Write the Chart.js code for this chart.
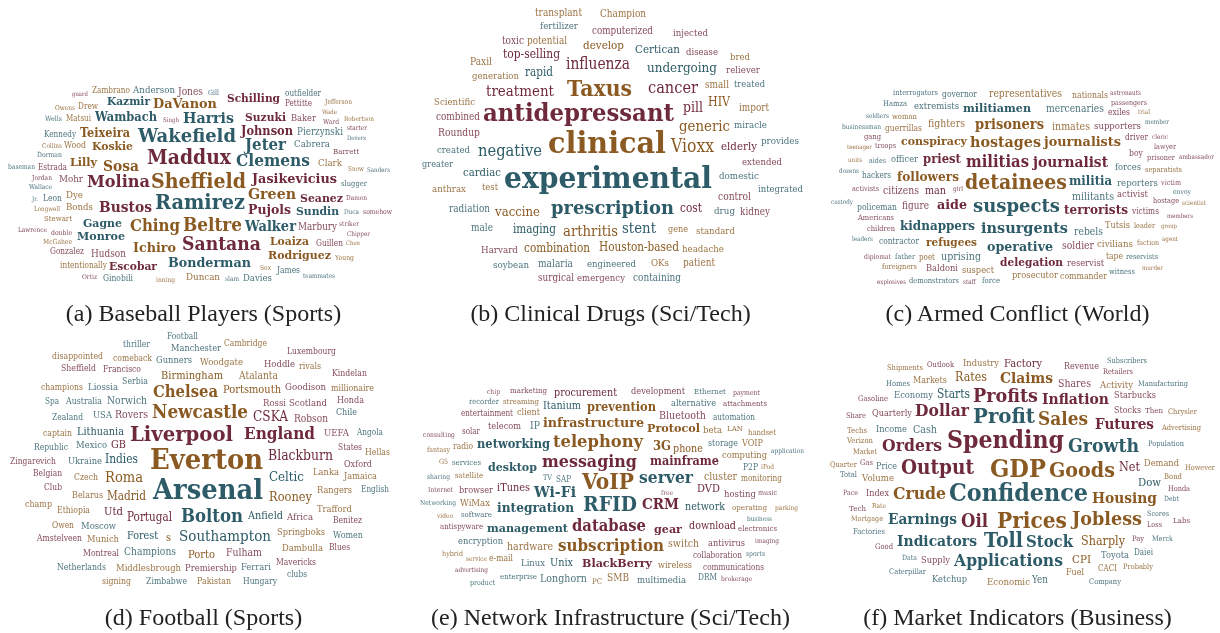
<!DOCTYPE html>
<html>
<head>
<meta charset="utf-8">
<script src="https://cdn.jsdelivr.net/npm/chart.js@4.4.0/dist/chart.umd.min.js"></script>
<style>
  body { margin: 0; background: #fff; }
  #wrap { position: relative; width: 1220px; height: 633px; overflow: hidden; }
  #wrap canvas { position: absolute; }
  .cap { position: absolute; width: 407px; text-align: center; font-family: "Liberation Serif", serif; font-size: 24px; color: #222; line-height: 28px; }
</style>
</head>
<body>
<div id="wrap"></div>
<script>
// word clouds drawn as scatter charts: each word = [text, xFrom, xTo, y, cluster, keyTerm]
// cluster: 0 teal, 1 maroon, 2 brown
const palette = ['#2d5b67', '#6e2a3a', '#8a5a22'];

const baseballWords = [
  ['guard',72,88,94,1],['Zambrano',92,130,91,2],['Anderson',133,175,90,0],['Jones',178,203,92,1],['Gill',208,219,93,0],
  ['Kazmir',107,150,102,0,1],['DaVanon',153,217,104,2,1],['Owens',55,75,108,2],['Drew',78,98,107,2],
  ['Wells',45,62,119,0],['Matsui',66,91,119,2],['Wambach',95,157,118,0,1],['Singh',163,179,120,1],['Harris',183,234,119,0,1],
  ['Kennedy',44,76,135,0],['Teixeira',80,130,134,2,1],['Wakefield',138,236,137,0,1],['Collins',42,62,146,2],['Wood',64,86,146,2],
  ['Koskie',92,133,147,2,1],['Dorman',37,62,155,0],['Maddux',147,231,159,1,1],['Lilly',70,97,163,2,1],['Sosa',103,139,167,2,1],
  ['baseman',8,35,167,0],['Estrada',38,67,168,1],['Jordan',32,52,178,1],['Mohr',59,83,179,1],['Molina',87,150,183,1,1],
  ['Sheffield',151,246,183,2,1],['Wallace',29,52,187,0],['Dye',66,83,195,2],['Jr.',32,38,199,0],['Leon',43,62,199,0],
  ['Bonds',66,93,207,2],['Bustos',99,152,208,1,1],['Ramirez',155,245,204,0,1],['Longwell',34,60,209,2],['Stewart',44,72,219,2],
  ['Lawrence',18,47,230,1],['Gagne',83,122,224,0,1],['Ching',130,180,227,2,1],['Beltre',183,242,226,2,1],['double',51,72,233,1],
  ['Monroe',77,125,237,0,1],['McGahee',43,72,242,2],['Ichiro',133,176,248,2,1],['Santana',182,261,245,1,1],['Gonzalez',50,84,252,1],
  ['Hudson',91,126,254,1],['intentionally',60,107,266,2],['Escobar',109,157,267,1,1],['Bonderman',168,251,263,0,1],['Ortiz',82,97,277,1],
  ['Ginobili',103,133,279,0],['inning',156,175,280,2],['Duncan',186,220,277,2],['Schilling',227,280,99,1,1],['outfielder',285,321,94,0],
  ['Pettitte',285,312,104,1],['Jefferson',325,352,102,2],['Wade',322,337,112,2],['Suzuki',245,286,118,1,1],['Baker',291,316,119,1],
  ['Ward',323,339,122,1],['Robertson',344,374,119,2],['Johnson',241,293,132,1,1],['Pierzynski',297,343,132,0],['starter',347,367,128,1],
  ['Devers',347,366,138,0],['Jeter',245,286,146,0,1],['Cabrera',294,330,144,0],['Barrett',333,359,152,1],['Clemens',236,310,162,0,1],
  ['Clark',318,342,163,2],['Snow',348,364,169,2],['Sanders',367,390,170,0],['Jasikevicius',252,337,179,1,1],['slugger',341,367,184,0],
  ['Green',248,296,195,2,1],['Seanez',300,343,199,1,1],['Damon',346,367,198,1],['Pujols',248,291,211,1,1],['Sundin',296,339,212,0,1],
  ['Duca',344,359,212,0],['somehow',363,392,212,1],['Walker',245,296,227,0,1],['Marbury',298,337,227,1],['striker',339,359,224,1],
  ['Chipper',347,370,234,1],['Loaiza',270,309,242,2,1],['Guillen',316,343,244,1],['Chen',346,360,243,2],['Rodriguez',268,331,256,2,1],
  ['Young',335,354,258,2],['Sox',260,271,268,2],['James',277,300,271,0],['slam',225,239,279,0],['Davies',243,272,278,0],
  ['teammates',303,335,276,0]
];

const drugWords = [
  ['transplant',535,582,13,2],['Champion',600,646,14,2],['fertilizer',540,578,26,0],['computerized',592,653,31,1],['injected',673,708,33,1],
  ['toxic',502,524,41,1],['potential',527,567,41,2],['develop',583,624,46,2],['Certican',635,680,50,0],['disease',686,718,52,1],
  ['bred',730,750,57,2],['Paxil',470,492,62,2],['top-selling',503,560,55,1],['influenza',566,630,65,1],['undergoing',647,717,68,0],
  ['reliever',726,760,70,1],['generation',472,519,76,2],['rapid',525,553,73,0],['small',705,729,85,2],['treated',734,765,84,0],
  ['Taxus',567,632,90,2,1],['treatment',486,554,92,1],['cancer',648,698,89,1],['HIV',708,730,103,2],['pill',683,703,108,1],
  ['import',739,769,108,2],['Scientific',434,475,102,2],['combined',436,480,117,1],['antidepressant',483,674,115,1,1],['Roundup',438,480,133,1],
  ['generic',679,730,127,2],['miracle',734,767,125,0],['created',437,470,150,0],['negative',478,542,152,0],['clinical',548,666,145,2,1],
  ['Vioxx',671,714,147,2],['elderly',721,757,147,1],['provides',761,799,141,0],['greater',422,453,165,0],['cardiac',463,501,173,0],
  ['extended',742,782,162,1],['experimental',504,712,180,0,1],['domestic',719,759,176,0],['anthrax',432,466,189,2],['test',482,498,187,2],
  ['integrated',758,803,189,0],['control',718,751,197,1],['radiation',449,490,209,0],['vaccine',495,540,213,2],['prescription',551,674,209,0,1],
  ['cost',680,702,209,1],['drug',714,735,211,0],['kidney',740,770,212,1],['male',471,493,228,0],['imaging',513,556,230,0],
  ['arthritis',563,618,232,2],['stent',622,656,229,0],['gene',668,688,230,2],['standard',696,735,231,2],['Harvard',481,518,250,1],
  ['combination',524,590,249,2],['Houston-based',599,679,248,2],['headache',682,724,249,2],['soybean',493,529,265,0],['malaria',538,573,264,0],
  ['engineered',587,636,264,0],['OKs',651,669,263,2],['patient',683,715,263,2],['surgical',538,574,278,1],['emergency',577,625,278,1],
  ['containing',633,681,278,0]
];

const conflictWords = [
  ['interrogators',893,938,93,0],['governor',942,977,95,0],['representatives',989,1062,94,2],['nationals',1072,1108,96,2],['astronauts',1110,1141,93,1],
  ['Hamza',883,907,104,0],['extremists',914,959,106,0],['militiamen',963,1031,109,0,1],['mercenaries',1046,1104,109,0],['passengers',1111,1147,103,1],
  ['exiles',1108,1130,113,1],['trial',1138,1150,112,2],['soldiers',866,889,116,0],['woman',892,917,117,2],['businessman',842,881,127,0],
  ['guerrillas',885,922,129,2],['fighters',928,965,124,2],['prisoners',975,1044,125,2,1],['inmates',1052,1090,127,2],['supporters',1094,1141,126,1],
  ['member',1145,1169,122,0],['gang',864,881,137,1],['teenager',847,872,147,2],['troops',875,896,146,1],['conspiracy',901,967,142,2,1],
  ['hostages',970,1041,143,2,1],['journalists',1044,1121,142,2,1],['driver',1125,1148,138,1],['cleric',1152,1168,137,1],['lawyer',1154,1176,147,1],
  ['units',848,862,160,2],['aides',869,886,161,0],['officer',891,918,160,0],['priest',923,961,160,1,1],['militias',966,1029,163,1,1],
  ['journalist',1033,1108,163,1,1],['boy',1129,1143,154,1],['prisoner',1147,1175,158,1],['ambassador',1179,1214,157,1],['forces',1115,1141,168,0],
  ['separatists',1145,1182,170,2],['dozens',839,859,171,0],['hackers',862,891,176,0],['followers',897,959,178,2,1],['detainees',965,1067,184,2,1],
  ['militia',1069,1112,182,0,1],['reporters',1117,1158,183,0],['victim',1161,1181,183,1],['activists',852,879,189,1],['citizens',883,919,191,1],
  ['man',925,946,191,1],['girl',953,963,189,1],['militants',1072,1114,197,0],['activist',1117,1148,194,1],['envoy',1173,1191,192,0],
  ['custody',831,853,202,0],['aide',937,967,205,1,1],['suspects',973,1060,207,0,1],['terrorists',1064,1128,211,1,1],['victims',1132,1159,212,1],
  ['hostage',1153,1179,201,1],['scientist',1182,1206,203,2],['members',1167,1193,216,1],['policeman',857,897,208,0],['figure',902,929,206,1],
  ['Americans',858,894,218,1],['children',867,895,229,1],['kidnappers',900,975,227,0,1],['insurgents',981,1068,229,0,1],['rebels',1074,1103,232,0],
  ['Tutsis',1105,1130,226,2],['leader',1134,1155,226,2],['group',1161,1177,226,2],['leaders',852,873,239,0],['contractor',879,919,242,0],
  ['refugees',926,977,243,2,1],['operative',987,1053,248,0,1],['soldier',1062,1094,246,1],['civilians',1097,1133,244,2],['faction',1137,1159,243,2],
  ['agent',1162,1178,239,2],['diplomat',864,891,257,1],['father',895,915,257,0],['poet',919,935,258,2],['uprising',941,981,257,0],
  ['delegation',1000,1063,263,1,1],['reservist',1067,1104,264,1],['tape',1106,1123,257,2],['reservists',1126,1158,257,0],['foreigners',882,917,267,2],
  ['Baldoni',926,958,269,1],['suspect',962,994,271,2],['witness',1109,1135,272,0],['murder',1142,1163,268,2],['prosecutor',1012,1058,276,2],
  ['commander',1060,1107,277,2],['explosives',877,906,282,1],['demonstrators',909,959,281,0],['staff',963,976,282,1],['force',982,1000,281,0]
];

const footballWords = [
  ['Football',167,198,337,0],['thriller',123,150,345,0],['Manchester',171,221,349,0],['Cambridge',224,267,344,2],['Luxembourg',287,336,352,1],
  ['disappointed',52,103,357,2],['comeback',113,152,359,2],['Gunners',156,192,361,0],['Woodgate',200,243,362,2],['Hoddle',264,295,364,1],
  ['rivals',299,321,367,2],['Kindelan',332,367,374,1],['Sheffield',61,96,369,1],['Francisco',103,141,370,1],['Birmingham',161,223,376,2],
  ['Atalanta',239,278,376,2],['champions',41,83,388,2],['Liossia',88,118,387,0],['Serbia',122,148,382,0],['Chelsea',153,218,393,2,1],
  ['Portsmouth',223,281,390,2],['Goodison',285,326,387,1],['millionaire',331,374,389,2],['Spa',45,59,402,0],['Australia',66,102,402,0],
  ['Norwich',107,147,401,0],['Rossi',263,286,403,1],['Scotland',289,327,403,1],['Honda',337,364,401,1],['Chile',336,357,413,0],
  ['Zealand',52,83,418,0],['USA',93,112,415,0],['Rovers',115,148,415,1],['Newcastle',152,248,413,2,1],['CSKA',253,288,417,1],
  ['Robson',294,328,419,1],['captain',43,72,434,2],['Lithuania',77,124,432,0],['Liverpool',130,233,436,1,1],['England',244,315,435,1,1],
  ['UEFA',324,349,433,1],['Angola',357,383,433,0],['Republic',34,68,448,0],['Mexico',76,107,445,0],['GB',111,126,445,1],
  ['States',338,362,448,1],['Hellas',365,390,453,2],['Zingarevich',10,56,462,1],['Ukraine',68,102,462,0],['Indies',105,138,460,0],
  ['Everton',150,263,462,2,1],['Blackburn',268,333,456,1],['Oxford',344,372,465,1],['Lanka',313,339,472,2],['Jamaica',344,377,477,2],
  ['Belgian',33,62,474,1],['Czech',74,98,478,2],['Roma',105,143,478,2],['Celtic',269,304,477,0],['Club',44,62,488,1],
  ['Arsenal',153,263,492,0,1],['Rangers',317,352,491,2],['English',361,389,490,0],['Belarus',72,103,496,2],['Madrid',107,146,497,2],
  ['Rooney',269,312,498,2],['champ',25,52,505,2],['Ethiopia',57,90,511,2],['Utd',104,123,512,1],['Trafford',317,352,509,2],
  ['Benitez',333,362,521,1],['Portugal',127,172,518,1],['Bolton',181,243,517,0,1],['Anfield',248,283,516,0],['Africa',287,313,517,1],
  ['Owen',52,74,526,2],['Moscow',81,116,526,0],['Springboks',277,325,533,2],['Women',333,363,536,0],['Amstelveen',37,82,539,1],
  ['Munich',87,119,540,2],['Forest',127,158,536,0],['s',166,171,538,2],['Southampton',179,271,537,0],['Montreal',83,119,554,1],
  ['Champions',124,176,552,0],['Porto',188,215,555,2],['Fulham',226,262,553,1],['Dambulla',282,323,548,2],['Blues',329,350,548,1],
  ['Netherlands',57,106,568,0],['Middlesbrough',116,181,568,2],['Premiership',185,237,568,1],['Ferrari',241,271,567,0],['Mavericks',276,316,563,1],
  ['clubs',287,307,575,0],['signing',102,131,582,2],['Zimbabwe',146,187,582,0],['Pakistan',197,231,582,2],['Hungary',243,277,582,0]
];

const networkWords = [
  ['chip',487,500,392,1],['marketing',510,547,391,1],['procurement',554,617,393,1],['development',631,685,392,1],['Ethernet',694,726,392,0],
  ['payment',733,760,393,1],['recorder',469,499,402,0],['streaming',503,539,402,2],['Itanium',543,581,406,0],['prevention',587,656,408,2,1],
  ['alternative',671,716,404,0],['attachments',723,767,404,1],['entertainment',461,513,414,1],['client',517,540,413,2],['infrastructure',543,644,423,2,1],
  ['Bluetooth',659,706,416,1],['automation',713,755,418,0],['consulting',423,455,435,1],['solar',462,480,432,1],['telecom',488,521,427,1],
  ['IP',530,540,426,0],['Protocol',647,700,429,2,1],['beta',703,722,430,2],['LAN',727,743,429,2],['handset',748,776,433,2],
  ['fantasy',427,450,450,2],['radio',453,473,447,2],['networking',477,550,445,0,1],['telephony',553,643,442,2,1],['3G',653,671,447,2,1],
  ['phone',673,703,449,2],['storage',708,738,444,0],['VOIP',742,763,444,2],['application',771,804,451,0],['computing',722,767,456,2],
  ['G5',439,448,462,2],['services',452,481,463,0],['desktop',488,537,468,0,1],['messaging',542,637,463,1,1],['mainframe',650,719,462,1,1],
  ['P2P',743,758,468,0],['iPod',761,774,467,2],['sharing',427,450,477,0],['satellite',455,483,476,2],['TV',543,552,478,0],
  ['SAP',556,571,480,0],['VoIP',582,634,483,2,1],['server',639,693,479,0,1],['cluster',704,737,477,2],['monitoring',741,782,479,2],
  ['Internet',428,453,490,1],['browser',459,493,491,1],['iTunes',497,530,488,1],['Wi-Fi',534,576,493,0,1],['free',661,673,493,1],
  ['DVD',697,720,489,1],['hosting',724,756,494,1],['music',758,777,493,1],['Networking',420,456,503,0],['WiMax',460,490,503,2],
  ['integration',497,574,509,0,1],['RFID',583,637,506,0,1],['CRM',642,679,505,1,1],['network',685,725,507,0],['operating',732,767,508,2],
  ['parking',775,798,508,2],['video',437,453,516,2],['software',461,492,515,0],['business',747,772,519,0],['antispyware',440,483,527,1],
  ['management',487,568,529,0,1],['database',572,646,527,1,1],['gear',654,682,530,1,1],['download',689,736,526,1],['electronics',738,777,529,1],
  ['imaging',755,779,541,1],['encryption',458,503,542,0],['hardware',507,553,547,2],['subscription',558,664,547,2,1],['switch',668,699,544,2],
  ['antivirus',708,745,544,1],['hybrid',442,463,554,2],['service',466,487,559,2],['e-mail',489,513,559,2],['collaboration',693,742,556,1],
  ['sports',746,765,554,0],['Linux',521,545,563,0],['Unix',550,573,563,0],['BlackBerry',582,652,564,1,1],['wireless',658,692,566,2],
  ['communications',703,764,568,1],['advertising',455,488,570,1],['enterprise',500,537,577,0],['Longhorn',540,587,579,0],['PC',592,602,582,2],
  ['SMB',607,629,578,2],['multimedia',637,686,580,0],['DRM',698,717,578,0],['brokerage',721,752,579,1],['product',470,495,583,0]
];

const marketWords = [
  ['Shipments',887,923,368,2],['Outlook',927,954,365,1],['Industry',963,999,363,2],['Factory',1004,1042,364,1],['Revenue',1064,1099,367,1],
  ['Subscribers',1107,1147,361,0],['Retailers',1103,1133,372,1],['Homes',886,910,384,0],['Markets',913,947,381,2],['Rates',955,987,378,2],
  ['Claims',1000,1053,379,2,1],['Shares',1058,1091,384,1],['Activity',1100,1133,385,2],['Manufacturing',1138,1188,384,0],['Gasoline',858,888,399,1],
  ['Economy',894,933,395,0],['Starts',937,970,395,0],['Profits',973,1038,397,1,1],['Inflation',1042,1109,400,1,1],['Starbucks',1114,1156,396,1],
  ['Share',846,866,416,1],['Quarterly',872,912,414,1],['Dollar',915,969,412,1,1],['Profit',973,1035,418,0,1],['Sales',1038,1088,420,2,1],
  ['Stocks',1114,1141,411,1],['Then',1145,1163,411,1],['Chrysler',1168,1197,412,2],['Techs',847,867,431,2],['Income',876,907,430,0],
  ['Cash',913,937,430,0],['Futures',1095,1154,425,1,1],['Advertising',1162,1201,428,2],['Verizon',847,873,441,2],['Orders',882,942,447,1,1],
  ['Spending',947,1064,442,1,1],['Growth',1068,1139,447,0,1],['Population',1148,1184,444,0],['Market',853,877,452,2],['Quarter',830,857,465,2],
  ['Gas',860,873,463,1],['Total',840,857,475,0],['Price',876,897,467,0],['Volume',862,894,478,2],['Output',901,974,469,1,1],
  ['GDP',990,1046,471,2,1],['Goods',1049,1115,472,2,1],['Net',1119,1140,468,1],['Demand',1144,1179,464,2],['However',1185,1215,468,2],
  ['Bond',1164,1182,477,2],['Dow',1138,1161,483,0],['Honda',1168,1190,489,1],['Debt',1164,1179,499,0],['Pace',843,858,493,1],
  ['Index',866,889,494,1],['Crude',893,946,495,2,1],['Confidence',949,1088,495,0,1],['Housing',1092,1157,499,2,1],['Tech',849,866,509,1],
  ['Rate',872,886,506,2],['Scores',1147,1169,514,0],['Labs',1173,1190,521,1],['Loss',1147,1162,525,1],['Mortgage',851,883,519,2],
  ['Earnings',888,957,520,0,1],['Oil',961,988,522,1,1],['Prices',997,1067,522,2,1],['Jobless',1072,1142,520,2,1],['Factories',853,885,532,0],
  ['Good',875,893,547,1],['Indicators',897,977,542,0,1],['Toll',984,1023,542,0,1],['Stock',1026,1073,543,0,1],['Sharply',1081,1125,542,2],
  ['Pay',1132,1144,539,1],['Merck',1152,1173,539,0],['Data',902,917,558,0],['Supply',921,950,561,1],['Applications',954,1063,562,0,1],
  ['CPI',1072,1091,560,2],['Toyota',1101,1129,556,0],['Daiei',1134,1153,553,0],['CACI',1098,1117,569,2],['Probably',1123,1153,567,2],
  ['Caterpillar',889,926,572,0],['Ketchup',932,967,580,0],['Economic',987,1030,582,2],['Yen',1032,1048,580,0],['Fuel',1066,1084,573,2],
  ['Company',1089,1121,582,0]
];

const captions = [
  '(a) Baseball Players (Sports)', '(b) Clinical Drugs (Sci/Tech)', '(c) Armed Conflict (World)',
  '(d) Football (Sports)', '(e) Network Infrastructure (Sci/Tech)', '(f) Market Indicators (Business)'
];
const panelWords = [baseballWords, drugWords, conflictWords, footballWords, networkWords, marketWords];

const colX = [0, 407, 814];
const rowY = [0, 322];
const panelW = 407, panelH = 300;

// draws each word centred on its point, font fitted to its x-span
// (DejaVu is wider than the original face, so it is squeezed a little)
const wordPlugin = {
  id: 'wordcloud',
  afterDatasetsDraw(chart) {
    const ctx = chart.ctx;
    const xs = chart.scales.x;
    const ds = chart.data.datasets[0];
    const meta = chart.getDatasetMeta(0);
    ctx.save();
    ctx.textAlign = 'center';
    ctx.textBaseline = 'middle';
    meta.data.forEach((pt, i) => {
      const w = ds.words[i];
      const span = xs.getPixelForValue(w[2]) - xs.getPixelForValue(w[1]);
      const weight = w[5] ? 'bold ' : '';
      const squeeze = w[5] ? 0.94 : 0.87;
      ctx.font = weight + '100px "DejaVu Serif"';
      const size = 100 * span / (ctx.measureText(w[0]).width * squeeze);
      ctx.font = weight + size.toFixed(2) + 'px "DejaVu Serif"';
      ctx.fillStyle = palette[w[4]];
      ctx.globalAlpha = size < 11 ? 0.85 : 1;
      ctx.save();
      ctx.translate(pt.x, pt.y);
      ctx.scale(squeeze, 1);
      ctx.fillText(w[0], 0, 0);
      ctx.restore();
    });
    ctx.restore();
  }
};

const wrap = document.getElementById('wrap');
panelWords.forEach((words, p) => {
  const col = p % 3, row = Math.floor(p / 3);
  const x0 = colX[col], y0 = rowY[row];
  const cv = document.createElement('canvas');
  cv.width = panelW; cv.height = panelH;
  cv.style.left = x0 + 'px'; cv.style.top = y0 + 'px';
  wrap.appendChild(cv);

  new Chart(cv, {
    type: 'scatter',
    data: {
      datasets: [{
        data: words.map(w => ({ x: (w[1] + w[2]) / 2, y: w[3] })),
        words: words,
        pointRadius: 0,
        pointHoverRadius: 0
      }]
    },
    options: {
      responsive: false,
      animation: false,
      events: [],
      layout: { padding: 0, autoPadding: false },
      scales: {
        x: { type: 'linear', display: false, min: x0, max: x0 + panelW },
        y: { type: 'linear', display: false, min: y0, max: y0 + panelH, reverse: true }
      },
      plugins: { legend: { display: false }, tooltip: { enabled: false } }
    },
    plugins: [wordPlugin]
  });

  const cap = document.createElement('div');
  cap.className = 'cap';
  cap.textContent = captions[p];
  cap.style.left = x0 + 'px';
  cap.style.top = (row === 0 ? 299 : 603) + 'px';
  wrap.appendChild(cap);
});
</script>
</body>
</html>
